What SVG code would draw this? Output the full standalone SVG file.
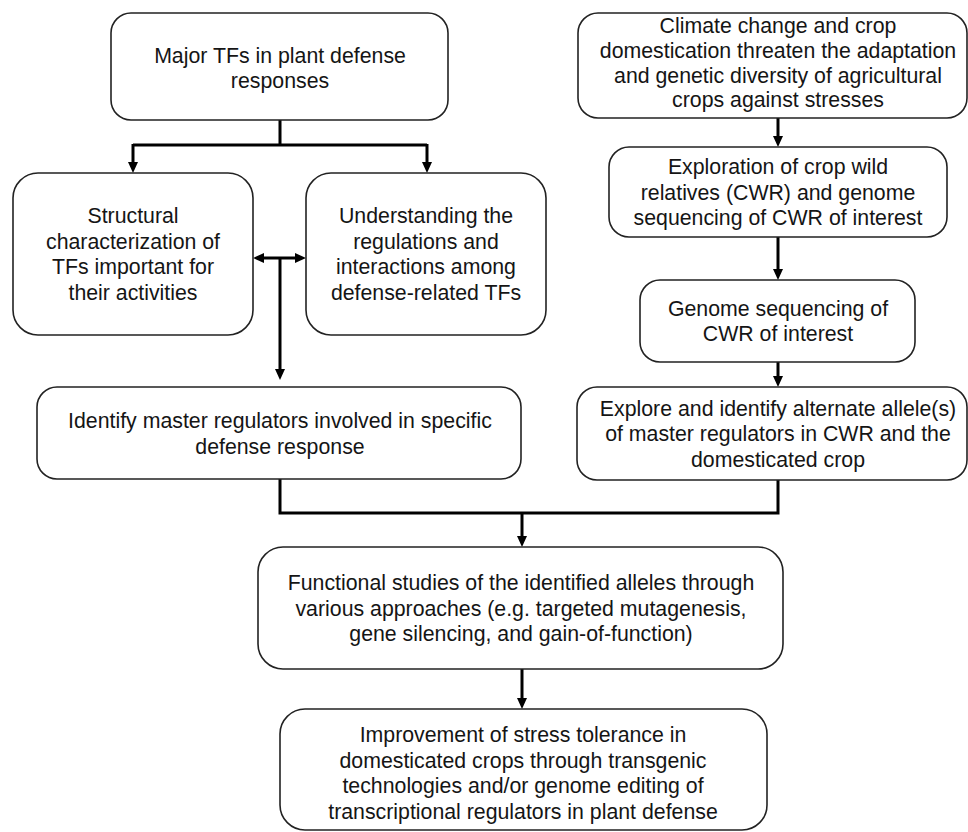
<svg xmlns="http://www.w3.org/2000/svg" width="968" height="832" viewBox="0 0 968 832">
<style>
.box{fill:#fff;stroke:#222;stroke-width:1.6}
.t{font-family:"Liberation Sans",Arial,sans-serif;font-size:21.3px;fill:#151515;text-anchor:middle}
.c{fill:none;stroke:#000;stroke-width:3}
</style>
<defs>
<marker id="ah" markerUnits="userSpaceOnUse" markerWidth="11" markerHeight="10" refX="4" refY="5" orient="auto-start-reverse" viewBox="0 0 11 10">
<path d="M0,0 L11,5 L0,10 z" fill="#000"/>
</marker>
</defs>
<rect width="968" height="832" fill="#fff"/>
<g id="connectors">
<path class="c" d="M280,120 V145 M133,145 H427"/>
<path class="c" d="M133,144 V166" marker-end="url(#ah)"/>
<path class="c" d="M427,144 V166" marker-end="url(#ah)"/>
<path class="c" d="M260,258 H299" marker-start="url(#ah)" marker-end="url(#ah)"/>
<path class="c" d="M280,258 V373" marker-end="url(#ah)"/>
<path class="c" d="M778,118 V140" marker-end="url(#ah)"/>
<path class="c" d="M778,237 V273" marker-end="url(#ah)"/>
<path class="c" d="M778,362 V380" marker-end="url(#ah)"/>
<path class="c" d="M280,479 V513 H778 V480"/>
<path class="c" d="M522,513 V540" marker-end="url(#ah)"/>
<path class="c" d="M522,669 V702" marker-end="url(#ah)"/>
</g>
<g id="n-major">
<rect class="box" x="111" y="13" width="337" height="107" rx="20"/>
<text class="t" x="280" y="62.5">Major TFs in plant defense</text>
<text class="t" x="280" y="88">responses</text>
</g>
<g id="n-structural">
<rect class="box" x="13" y="173" width="240" height="162" rx="25"/>
<text class="t" x="133" y="223">Structural</text>
<text class="t" x="133" y="248.5">characterization of</text>
<text class="t" x="133" y="274">TFs important for</text>
<text class="t" x="133" y="299.5">their activities</text>
</g>
<g id="n-understanding">
<rect class="box" x="306" y="173" width="240" height="162" rx="25"/>
<text class="t" x="426" y="223">Understanding the</text>
<text class="t" x="426" y="248.5">regulations and</text>
<text class="t" x="426" y="274">interactions among</text>
<text class="t" x="426" y="299.5">defense-related TFs</text>
</g>
<g id="n-identify">
<rect class="box" x="37" y="387" width="484" height="92" rx="20"/>
<text class="t" x="280" y="428">Identify master regulators involved in specific</text>
<text class="t" x="280" y="453.5">defense response</text>
</g>
<g id="n-climate">
<rect class="box" x="578" y="13" width="389" height="105" rx="20"/>
<text class="t" x="778" y="33">Climate change and crop</text>
<text class="t" x="778" y="58">domestication threaten the adaptation</text>
<text class="t" x="778" y="82.5">and genetic diversity of agricultural</text>
<text class="t" x="778" y="107">crops against stresses</text>
</g>
<g id="n-exploration">
<rect class="box" x="609" y="147" width="338" height="90" rx="20"/>
<text class="t" x="778" y="174">Exploration of crop wild</text>
<text class="t" x="778" y="199.5">relatives (CWR) and genome</text>
<text class="t" x="778" y="225">sequencing of CWR of interest</text>
</g>
<g id="n-genome">
<rect class="box" x="640" y="280" width="275" height="82" rx="20"/>
<text class="t" x="778" y="315.5">Genome sequencing of</text>
<text class="t" x="778" y="341">CWR of interest</text>
</g>
<g id="n-explore">
<rect class="box" x="577" y="387" width="390" height="93" rx="20"/>
<text class="t" x="778" y="415.5">Explore and identify alternate allele(s)</text>
<text class="t" x="778" y="441">of master regulators in CWR and the</text>
<text class="t" x="778" y="466.5">domesticated crop</text>
</g>
<g id="n-functional">
<rect class="box" x="258" y="547" width="525" height="122" rx="25"/>
<text class="t" x="521" y="590">Functional studies of the identified alleles through</text>
<text class="t" x="521" y="615.5">various approaches (e.g. targeted mutagenesis,</text>
<text class="t" x="521" y="641">gene silencing, and gain-of-function)</text>
</g>
<g id="n-improvement">
<rect class="box" x="280" y="709" width="487" height="121" rx="25"/>
<text class="t" x="523" y="742">Improvement of stress tolerance in</text>
<text class="t" x="523" y="767.5">domesticated crops through transgenic</text>
<text class="t" x="523" y="793">technologies and/or genome editing of</text>
<text class="t" x="523" y="818.5">transcriptional regulators in plant defense</text>
</g>
</svg>
